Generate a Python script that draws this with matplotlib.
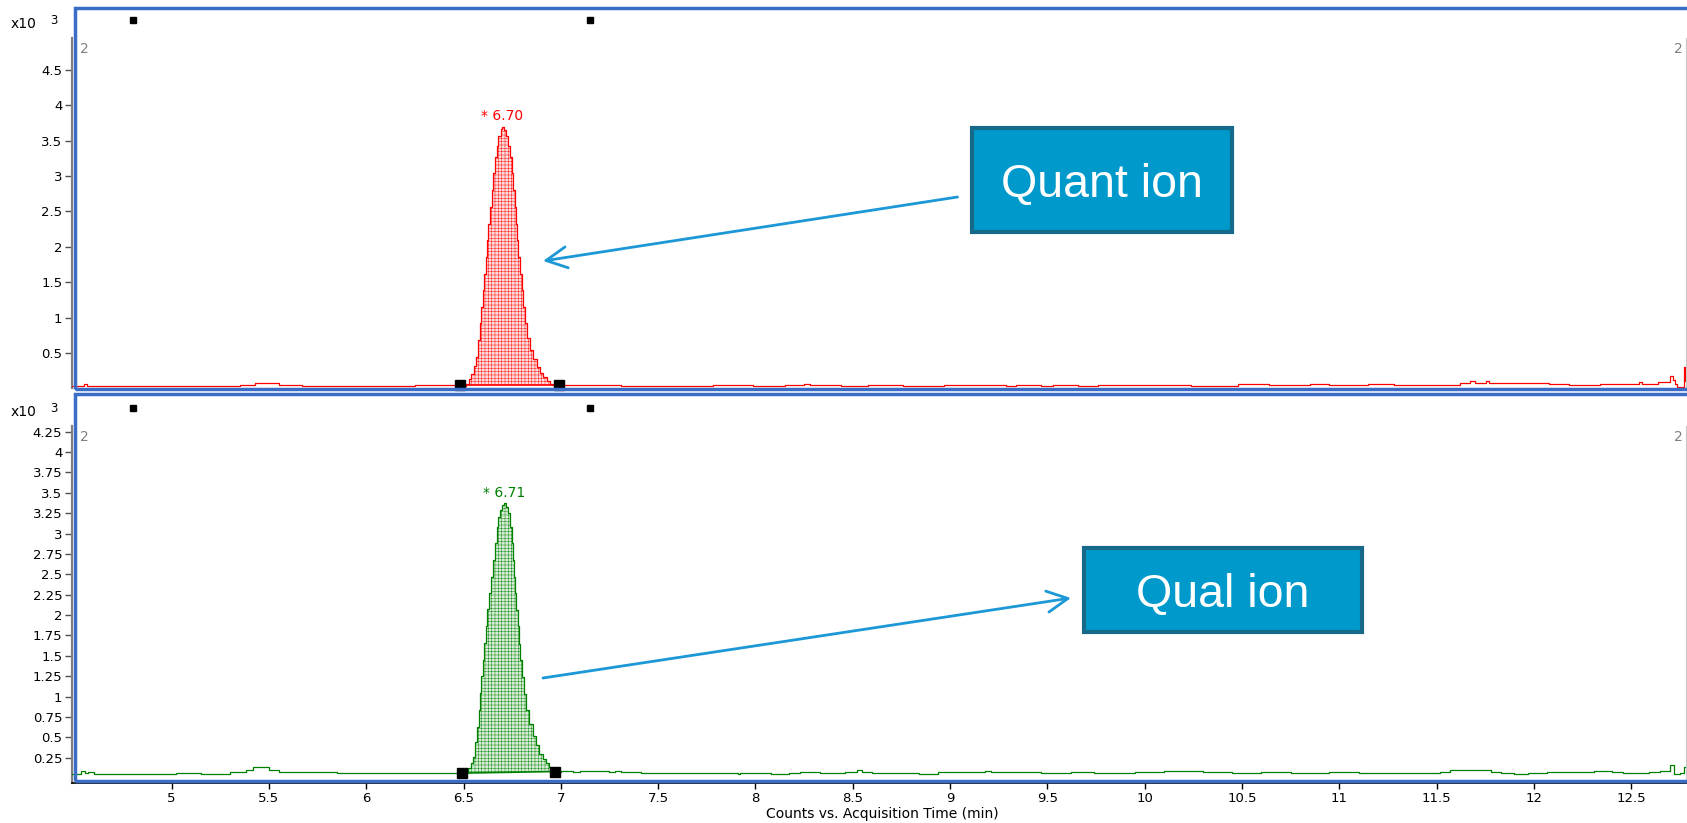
import matplotlib.pyplot as plt
import numpy as np
from matplotlib.patches import Rectangle, FancyArrowPatch
from matplotlib.ticker import FormatStrFormatter

plt.rcParams['font.family'] = ['DejaVu Sans']
plt.rcParams['hatch.linewidth'] = 0.3

# Quant ion trace (acquisition time in min, counts x10^3)
quant_time = [4.488, 4.55, 4.565, 5.35, 5.43, 5.55, 5.67, 6.25, 6.46,
              6.514, 6.527, 6.54, 6.553, 6.566, 6.575, 6.584, 6.591, 6.598,
              6.606, 6.615, 6.621, 6.627, 6.636, 6.644, 6.652, 6.661, 6.670,
              6.678, 6.690, 6.700, 6.710, 6.720, 6.730, 6.739, 6.748, 6.756,
              6.763, 6.770, 6.776, 6.782, 6.791, 6.800, 6.808, 6.816, 6.828,
              6.840, 6.858, 6.876, 6.893, 6.910, 6.928, 6.945, 6.96, 7.00,
              7.20, 7.31, 7.78, 7.99, 8.15, 8.25, 8.28, 8.44, 8.58, 8.76,
              8.97, 9.05, 9.29, 9.34, 9.47, 9.53, 9.66, 9.76, 10.24, 10.48,
              10.64, 10.85, 10.95, 11.05, 11.15, 11.28, 11.62, 11.67, 11.70,
              11.755, 11.77, 12.08, 12.18, 12.34, 12.54, 12.555, 12.64, 12.70,
              12.715, 12.725, 12.735, 12.772, 12.778, 12.782]
quant_abund = [0.035, 0.06, 0.035, 0.05, 0.08, 0.055, 0.035, 0.05, 0.04,
               0.07, 0.14, 0.21, 0.32, 0.45, 0.68, 0.92, 1.15, 1.39,
               1.62, 1.86, 2.10, 2.33, 2.57, 2.80, 3.04, 3.27, 3.43,
               3.56, 3.66, 3.70, 3.65, 3.56, 3.42, 3.27, 3.04, 2.80,
               2.56, 2.33, 2.10, 1.86, 1.62, 1.39, 1.15, 0.92, 0.72,
               0.54, 0.41, 0.30, 0.22, 0.16, 0.11, 0.07, 0.05, 0.05,
               0.045, 0.035, 0.05, 0.035, 0.05, 0.06, 0.05, 0.035, 0.05, 0.035,
               0.05, 0.055, 0.035, 0.05, 0.035, 0.05, 0.035, 0.05, 0.035, 0.06,
               0.05, 0.07, 0.045, 0.05, 0.07, 0.055, 0.08, 0.105, 0.08,
               0.105, 0.08, 0.06, 0.055, 0.065, 0.085, 0.065, 0.085, 0.18,
               0.12, 0.06, 0.02, 0.31, 0.10, 0.10]

# Qual ion trace
qual_time = [4.488, 4.535, 4.555, 4.57, 4.60, 5.02, 5.15, 5.30, 5.38, 5.42,
             5.50, 5.55, 5.60, 5.75, 5.85, 6.20, 6.49,
             6.524, 6.537, 6.55, 6.56, 6.57, 6.577, 6.584, 6.591, 6.598,
             6.606, 6.615, 6.623, 6.632, 6.641, 6.650, 6.660, 6.670, 6.678,
             6.687, 6.698, 6.708, 6.719, 6.730, 6.739, 6.747, 6.754, 6.760,
             6.766, 6.771, 6.778, 6.785, 6.792, 6.800, 6.810, 6.820, 6.838,
             6.857, 6.873, 6.890, 6.908, 6.925, 6.938, 6.950, 6.97,
             7.00, 7.06, 7.10, 7.20, 7.25, 7.28, 7.31, 7.41, 7.47, 7.72,
             7.91, 7.92, 8.08, 8.17, 8.23, 8.33, 8.46, 8.52, 8.55, 8.60,
             8.84, 8.94, 8.98, 9.18, 9.21, 9.47, 9.62, 9.74, 9.95, 10.10,
             10.30, 10.45, 10.60, 10.75, 10.95, 11.10, 11.31, 11.52, 11.57,
             11.78, 11.83, 11.90, 11.97, 12.07, 12.15, 12.20, 12.31, 12.35,
             12.40, 12.46, 12.59, 12.65, 12.70, 12.72, 12.75, 12.77, 12.782]
qual_abund = [0.05, 0.086, 0.06, 0.07, 0.045, 0.06, 0.055, 0.07, 0.10, 0.13,
              0.10, 0.08, 0.07, 0.08, 0.065, 0.06, 0.06,
              0.12, 0.19, 0.26, 0.44, 0.63, 0.84, 1.04, 1.25, 1.45,
              1.66, 1.86, 2.07, 2.27, 2.47, 2.67, 2.88, 3.08, 3.20,
              3.29, 3.35, 3.37, 3.33, 3.25, 3.08, 2.88, 2.67, 2.47,
              2.27, 2.06, 1.86, 1.65, 1.45, 1.24, 1.03, 0.83, 0.66,
              0.51, 0.40, 0.30, 0.23, 0.18, 0.14, 0.10, 0.08,
              0.09, 0.075, 0.09, 0.086, 0.075, 0.086, 0.07, 0.058, 0.065, 0.058,
              0.05, 0.058, 0.045, 0.058, 0.075, 0.058, 0.08, 0.095, 0.075, 0.058,
              0.045, 0.07, 0.075, 0.09, 0.08, 0.058, 0.075, 0.06, 0.07, 0.085,
              0.07, 0.06, 0.08, 0.065, 0.07, 0.06, 0.058, 0.07, 0.098,
              0.08, 0.058, 0.045, 0.058, 0.07, 0.08, 0.07, 0.085, 0.09,
              0.075, 0.058, 0.07, 0.09, 0.16, 0.045, 0.06, 0.13, 0.13]

# peak apex labels and integration start/end points
quant_rt, quant_apex = 6.70, 3.70
qual_rt, qual_apex = 6.71, 3.37
quant_integ_t = [6.48, 6.99]
quant_integ_y = [0.05, 0.05]
qual_integ_t = [6.49, 6.97]
qual_integ_y = [0.06, 0.08]

# small reference marks above each panel
ref_marks = [4.80, 7.15]

x_ticks = [5, 5.5, 6, 6.5, 7, 7.5, 8, 8.5, 9, 9.5, 10, 10.5, 11, 11.5, 12, 12.5]
quant_yticks = [0.5, 1, 1.5, 2, 2.5, 3, 3.5, 4, 4.5]
qual_yticks = [0.25, 0.5, 0.75, 1, 1.25, 1.5, 1.75, 2, 2.25, 2.5, 2.75,
               3, 3.25, 3.5, 3.75, 4, 4.25]

W, H = 1687, 823
fig = plt.figure(figsize=(W / 100, H / 100), dpi=100)


def fx(px):
    return px / W


def fy(py):
    return 1 - py / H


ax1 = fig.add_axes([fx(72), fy(388), fx(1614), 350 / H])
ax2 = fig.add_axes([fx(72), fy(783), fx(1614), 357 / H])

panels = [
    (ax1, quant_time, quant_abund, 'red', '#FFDADA', quant_rt, quant_apex,
     quant_integ_t, quant_integ_y, quant_yticks, (0.007, 4.95)),
    (ax2, qual_time, qual_abund, 'green', '#D6ECD6', qual_rt, qual_apex,
     qual_integ_t, qual_integ_y, qual_yticks, (-0.061, 4.32)),
]

for ax, t, a, col, fillcol, rt, apex, it, iy, yt, ylim in panels:
    t = np.array(t)
    a = np.array(a)
    ax.plot(t, a, color=col, lw=0.9, drawstyle='steps-post', zorder=3)

    # hatched integrated area
    m = (t >= it[0]) & (t <= it[1])
    base = np.interp(t[m], it, iy)
    ax.fill_between(t[m], base, a[m], step='post', facecolor=fillcol,
                    edgecolor=col, hatch='+++++', linewidth=0, zorder=2)
    ax.plot(it, iy, color=col, lw=1.2, zorder=3)
    ax.plot(it, iy, 's', color='black', ms=6.5, clip_on=False, zorder=5)

    ax.annotate('* %.2f' % rt, (rt, apex), xytext=(0, 2.5),
                textcoords='offset points', ha='center', va='bottom',
                color=col, fontsize=10)

    ax.plot(ref_marks, [1.051, 1.051], 's', color='black', ms=4.2,
            transform=ax.get_xaxis_transform(), clip_on=False)

    ax.text(0.005, 0.989, '2', transform=ax.transAxes, color='#808080',
            fontsize=10, ha='left', va='top')
    ax.text(0.998, 0.989, '2', transform=ax.transAxes, color='#808080',
            fontsize=10, ha='right', va='top')

    ax.set_xlim(4.488, 12.782)
    ax.set_ylim(*ylim)
    ax.set_yticks(yt)
    ax.yaxis.set_major_formatter(FormatStrFormatter('%g'))
    ax.tick_params(axis='y', length=5, width=1, color='#505050',
                   labelsize=9.5, pad=2)
    ax.spines['left'].set_color('#808080')
    ax.spines['left'].set_linewidth(1.6)
    ax.spines['right'].set_color('#c8c8c8')
    ax.spines['right'].set_linewidth(0.8)
    ax.spines['top'].set_visible(False)
    ax.patch.set_alpha(0)

ax1.spines['bottom'].set_visible(False)
ax1.set_xticks([])

ax2.set_xticks(x_ticks)
ax2.xaxis.set_major_formatter(FormatStrFormatter('%g'))
ax2.tick_params(axis='x', length=4, width=1, labelsize=9.5, pad=2.5)
ax2.spines['bottom'].set_linewidth(1.2)

fig.text(fx(882), fy(814), 'Counts vs. Acquisition Time (min)',
         ha='center', va='center', fontsize=10)

# x10^3 scale labels
for yc, ys in [(24.5, 20), (412.5, 408)]:
    fig.text(fx(11), fy(yc), 'x10', ha='left', va='center', fontsize=10)
    fig.text(fx(50), fy(ys), '3', ha='left', va='center', fontsize=8.5)

# blue panel frames
frame_col = '#3A6DC5'
fig.add_artist(Rectangle((fx(74.7), fy(389.5)), fx(1700 - 74.7),
                         (389.5 - 8) / H, transform=fig.transFigure,
                         fill=False, edgecolor=frame_col, lw=2.5))
fig.add_artist(Rectangle((fx(74.7), fy(780.5)), fx(1700 - 74.7),
                         (780.5 - 393.7) / H, transform=fig.transFigure,
                         fill=False, edgecolor=frame_col, lw=2.5))

# callout boxes and arrows
arrow_col = '#1B98D5'
callouts = [
    ('Quant ion', (972, 128, 1232, 232), 1102, 197, (957.5, 197), (543, 261)),
    ('Qual ion', (1084, 548, 1362, 632), 1223, 607, (543, 678), (1071, 598)),
]
for label, (x0, y0, x1, y1), tx, ty, tail, tip in callouts:
    fig.add_artist(Rectangle((fx(x0), fy(y1)), fx(x1 - x0), (y1 - y0) / H,
                             transform=fig.transFigure, facecolor='#0099CC',
                             edgecolor='#17698A', lw=3))
    fig.text(fx(tx), fy(ty), label, ha='center', va='baseline', color='white',
             fontsize=33.5, family=['Liberation Sans', 'DejaVu Sans'])
    fig.add_artist(FancyArrowPatch((fx(tail[0]), fy(tail[1])),
                                   (fx(tip[0]), fy(tip[1])),
                                   transform=fig.transFigure,
                                   arrowstyle='->,head_length=0.75,head_width=0.38',
                                   mutation_scale=20, color=arrow_col, lw=2,
                                   shrinkA=0, shrinkB=0))

fig.savefig('out.png', dpi=100)
